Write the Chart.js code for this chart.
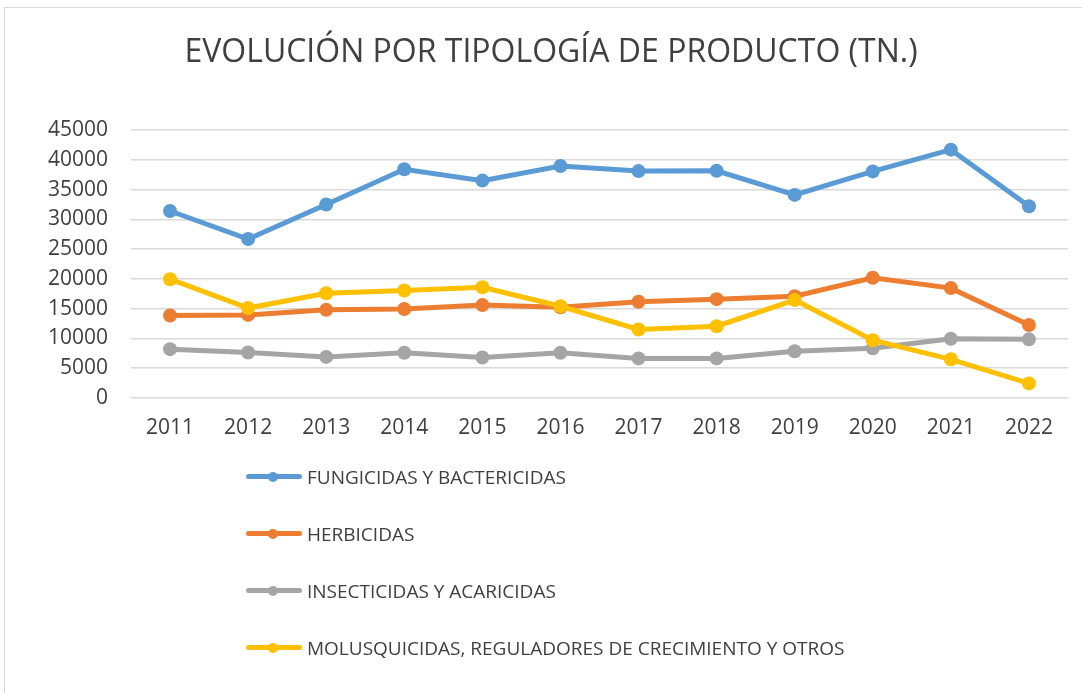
<!DOCTYPE html>
<html>
<head>
<meta charset="utf-8">
<script src="https://cdn.jsdelivr.net/npm/chart.js@4"></script>
<style>
  html, body { margin: 0; padding: 0; background: #fff; }
  body { width: 1082px; height: 693px; overflow: hidden; position: relative; font-family: "Open Sans", sans-serif; }
  #card { position: absolute; left: 4px; top: 7px; width: 1100px; height: 720px; border: 1px solid #d9d9d9; box-sizing: border-box; }
  #wrap { position: absolute; left: 0; top: 0; width: 1082px; height: 455px; }
  #legend { position: absolute; left: 246px; top: 448px; }
  .item { height: 57px; display: flex; align-items: center; }
  .swatch { position: relative; width: 56px; height: 10px; }
  .swatch .ln { position: absolute; left: 0; right: 0; top: 2.5px; height: 5px; border-radius: 3px; }
  .swatch .dot { position: absolute; left: 22px; top: 0; width: 10px; height: 10px; border-radius: 50%; }
  .item span.txt { margin-left: 5px; font-size: 19px; color: #404040; white-space: nowrap; }
</style>
</head>
<body>
<div id="card"></div>
<div id="wrap"><canvas id="lineChart"></canvas></div>
<div id="legend"></div>
<script>
// --- Data ---
const years = ['2011', '2012', '2013', '2014', '2015', '2016', '2017', '2018', '2019', '2020', '2021', '2022'];

const fungicidas   = [31400, 26700, 32500, 38400, 36500, 38950, 38100, 38150, 34100, 38050, 41700, 32200];
const herbicidas   = [13850, 13950, 14800, 14950, 15600, 15250, 16150, 16600, 17100, 20200, 18450, 12250];
const insecticidas = [8200, 7650, 6900, 7600, 6800, 7600, 6650, 6650, 7850, 8350, 9950, 9850];
const moluscicidas = [19950, 15100, 17600, 18050, 18600, 15400, 11500, 12050, 16450, 9700, 6500, 2450];

const seriesNames = [
    'FUNGICIDAS Y BACTERICIDAS',
    'HERBICIDAS',
    'INSECTICIDAS Y ACARICIDAS',
    'MOLUSQUICIDAS, REGULADORES DE CRECIMIENTO Y OTROS'
];
const seriesColors = ['#5b9bd5', '#ed7d31', '#a5a5a5', '#ffc000'];
const seriesValues = [fungicidas, herbicidas, insecticidas, moluscicidas];

const yTicks = [0, 5000, 10000, 15000, 20000, 25000, 30000, 35000, 40000, 45000];

const FONT = '"Open Sans", sans-serif';
const PAD_LEFT = 34;

// later series sit on top (lower order = drawn last)
const datasets = seriesNames.map((name, i) => ({
    label: name,
    data: seriesValues[i],
    borderColor: seriesColors[i],
    backgroundColor: seriesColors[i],
    borderWidth: 5,
    pointRadius: 7,
    pointHoverRadius: 7,
    pointBorderWidth: 0,
    tension: 0,
    order: seriesNames.length - i
}));

const chart = new Chart(document.getElementById('lineChart').getContext('2d'), {
    type: 'line',
    data: { labels: years, datasets: datasets },
    options: {
        responsive: true,
        maintainAspectRatio: false,
        animation: false,
        layout: { padding: { left: PAD_LEFT, right: 14, top: 0, bottom: 0 } },
        plugins: {
            legend: { display: false },
            tooltip: { enabled: false },
            title: {
                display: true,
                text: 'EVOLUCIÓN POR TIPOLOGÍA DE PRODUCTO (TN.)',
                color: '#404040',
                font: { family: FONT, size: 32, weight: 'normal' },
                padding: { top: 34, bottom: 57.6 }
            }
        },
        scales: {
            x: {
                offset: true,
                grid: { display: false, drawTicks: false },
                border: { display: false },
                ticks: {
                    color: '#404040',
                    font: { family: FONT, size: 21 },
                    padding: 17,
                    maxRotation: 0,
                    autoSkip: false
                },
                afterFit: s => { s.height = 57; }
            },
            y: {
                min: 0,
                max: 45000,
                afterBuildTicks: s => { s.ticks = yTicks.map(v => ({ value: v })); },
                grid: { color: '#d9d9d9', lineWidth: 1.5, drawTicks: false },
                border: { display: false },
                ticks: {
                    color: '#404040',
                    font: { family: FONT, size: 21 },
                    padding: 23,
                    callback: v => String(v)
                },
                afterFit: s => { s.width = 131 - PAD_LEFT; }
            }
        }
    }
});

// --- Legend (one entry per row, like the original) ---
const legendEl = document.getElementById('legend');
chart.data.datasets.forEach(ds => {
    const row = document.createElement('div');
    row.className = 'item';
    row.innerHTML = '<div class="swatch"><div class="ln" style="background:' + ds.borderColor +
        '"></div><div class="dot" style="background:' + ds.borderColor + '"></div></div>' +
        '<span class="txt"></span>';
    row.querySelector('.txt').textContent = ds.label;
    legendEl.appendChild(row);
});
</script>
</body>
</html>
